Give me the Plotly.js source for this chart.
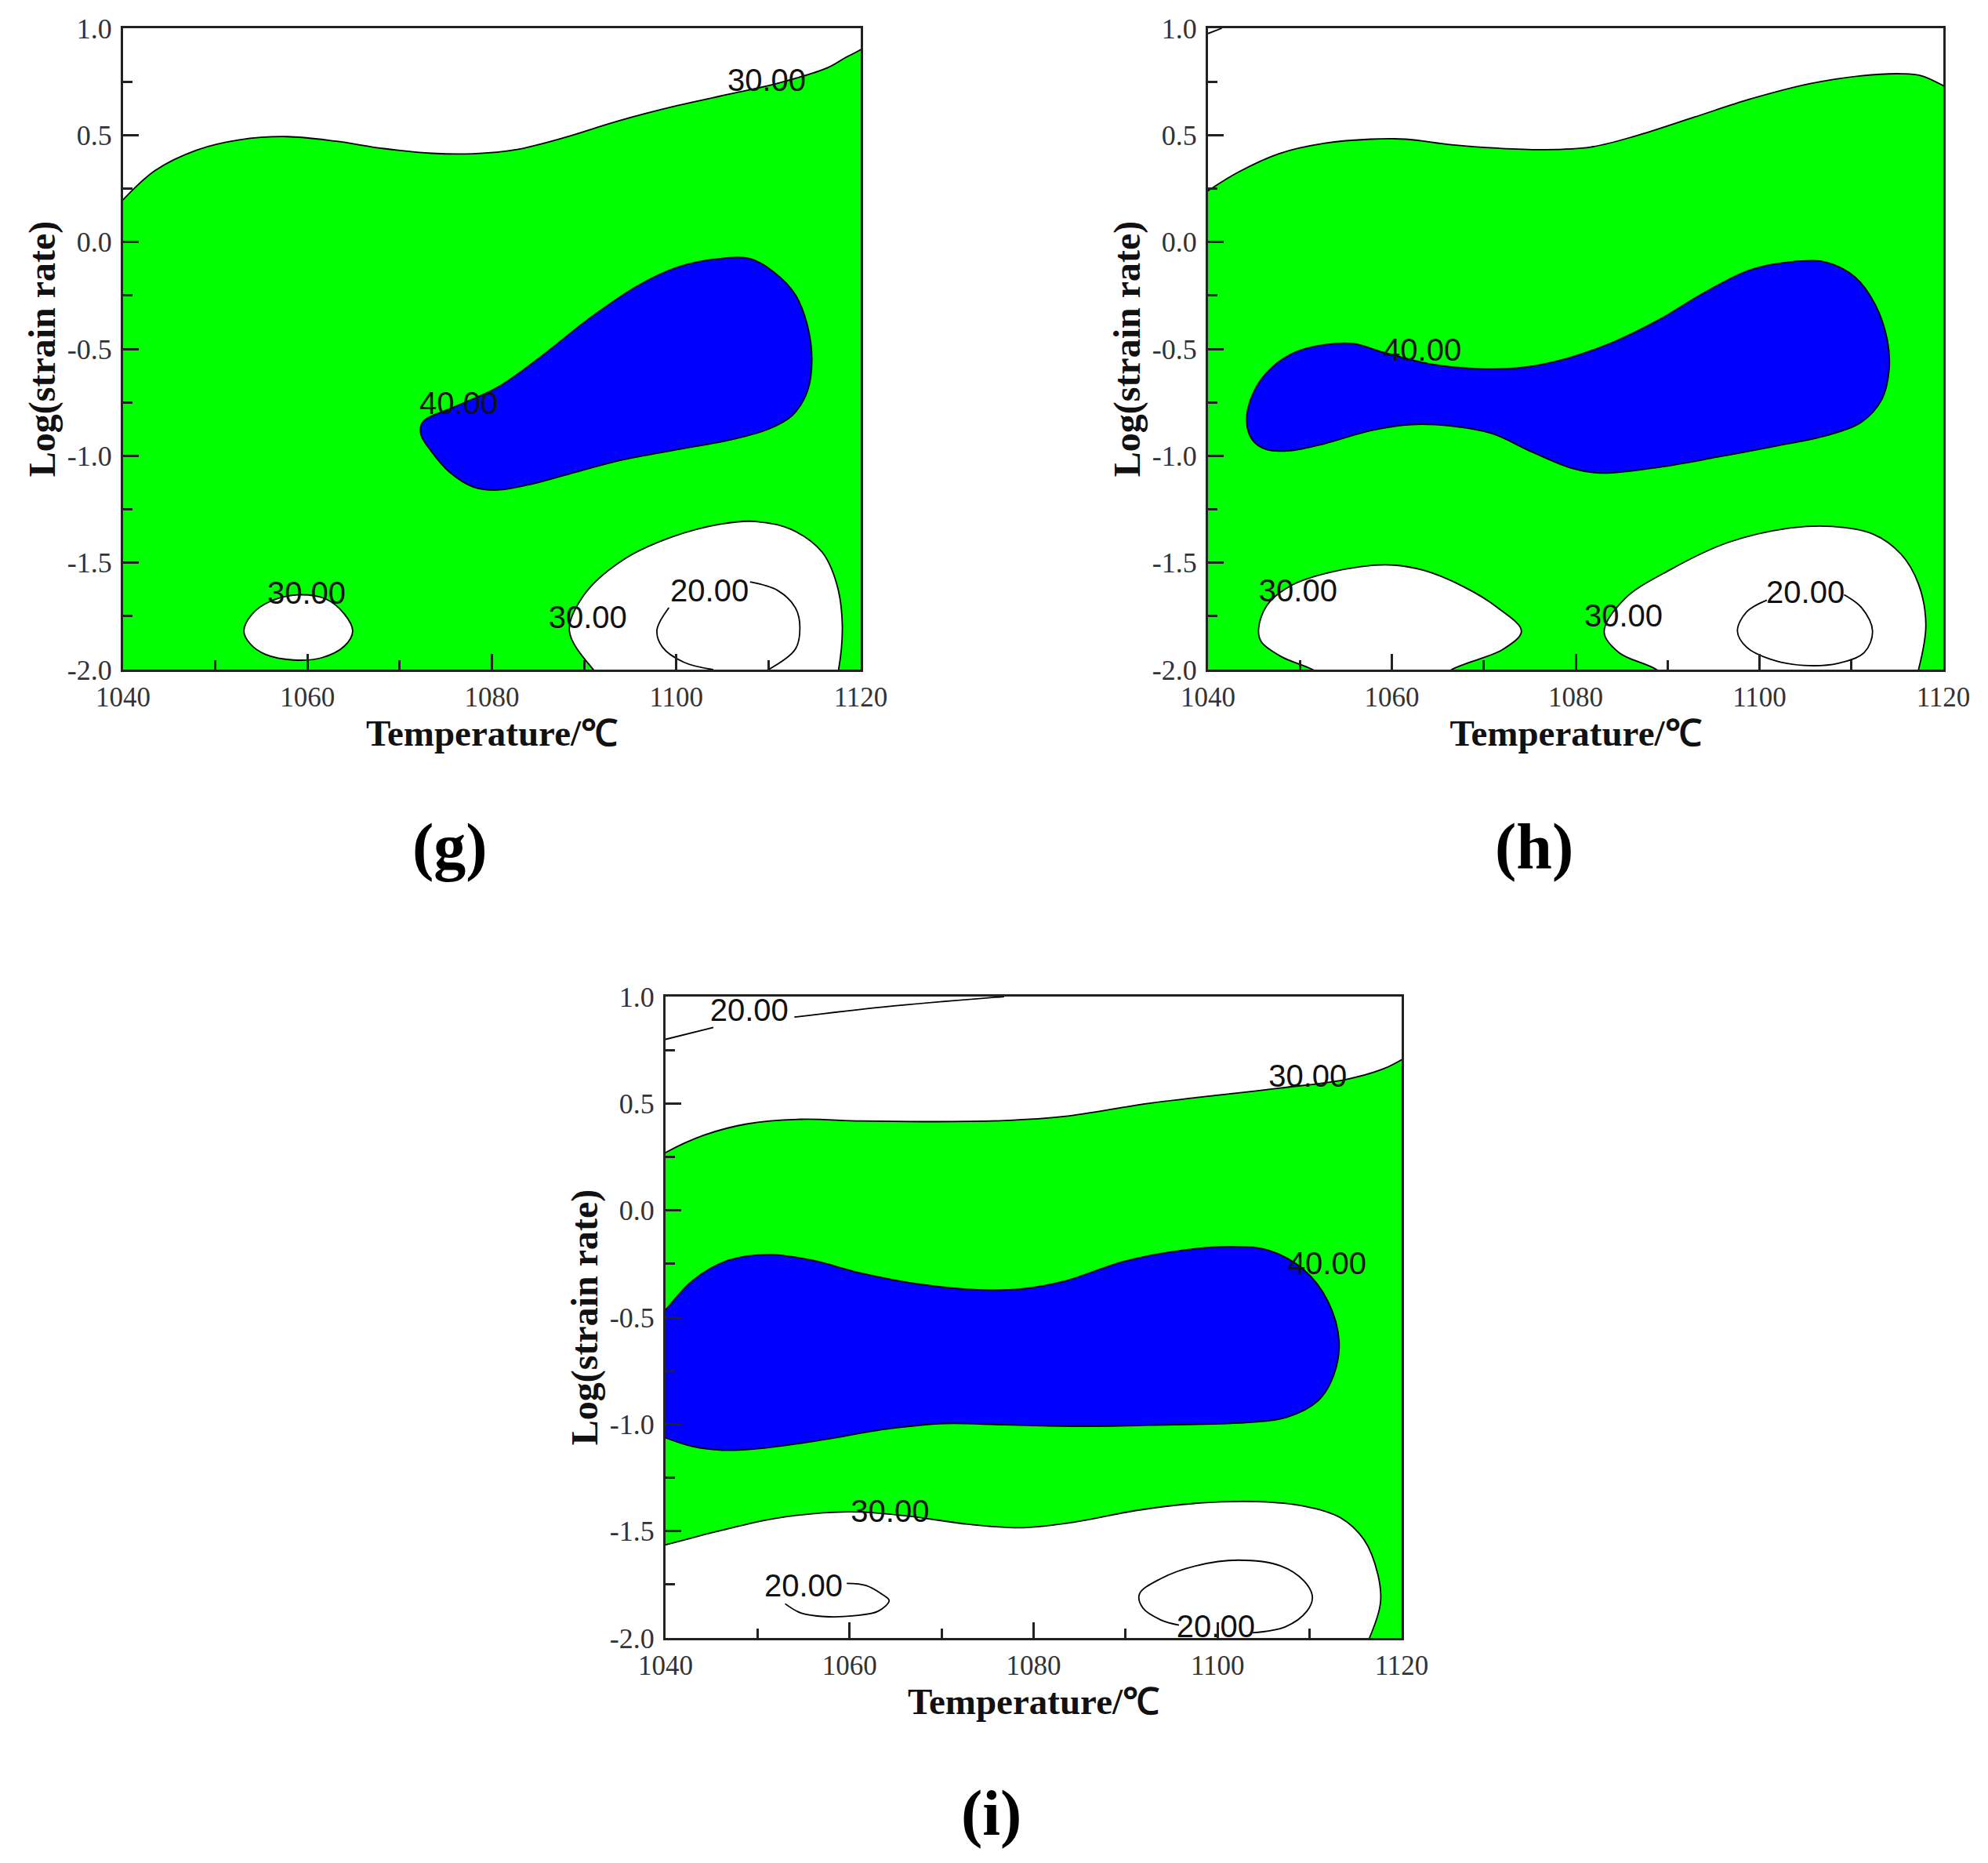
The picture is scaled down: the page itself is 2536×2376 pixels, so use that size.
<!DOCTYPE html>
<html>
<head>
<meta charset="utf-8">
<script src="https://cdn.plot.ly/plotly-3.0.1.min.js"></script>
<style>
  html, body { margin: 0; padding: 0; background: #fff; overflow: hidden; }
</style>
</head>
<body>
<div id="graphique" style="width:2536px;height:2376px;"></div>
<script>
// ticks
var xTicks = [1040, 1060, 1080, 1100, 1120];
var xTickText = ['1040', '1060', '1080', '1100', '1120'];
var xMinor = [1050, 1070, 1090, 1110];
var yTicks = [-2, -1.5, -1, -0.5, 0, 0.5, 1];
var yTickText = ['-2.0', '-1.5', '-1.0', '-0.5', '0.0', '0.5', '1.0'];
var yMinor = [-1.75, -1.25, -0.75, -0.25, 0.25, 0.75];

// panel (g), contours
var gTopX = [1035, 1040, 1043.5, 1048, 1052.6, 1057.8, 1063, 1068.3, 1073.5, 1078, 1082.6, 1087.8, 1093.6, 1100.1, 1106, 1111.2, 1116.4, 1118.4, 1120, 1125, 1125, 1035];
var gTopY = [-0.05, 0.198, 0.335, 0.43, 0.478, 0.493, 0.472, 0.437, 0.415, 0.413, 0.432, 0.488, 0.565, 0.638, 0.694, 0.745, 0.815, 0.864, 0.9, 1.05, 1.7, 1.7];
var gBlueX = [1072.5, 1076, 1080.6, 1085.2, 1090.4, 1095.6, 1100.1, 1104.7, 1108, 1110.6, 1112.9, 1114.2, 1114.7, 1114.2, 1112.6, 1110, 1106, 1100.1, 1094.3, 1089.1, 1084.5, 1080.6, 1078, 1075.4, 1073.5, 1072.3, 1072.5];
var gBlueY = [-0.842, -0.77, -0.68, -0.54, -0.363, -0.21, -0.118, -0.078, -0.078, -0.141, -0.246, -0.387, -0.55, -0.7, -0.81, -0.875, -0.924, -0.971, -1.018, -1.076, -1.13, -1.16, -1.146, -1.076, -0.983, -0.9, -0.842];
var gIsleX = [1053.1, 1054, 1056, 1059, 1062, 1064, 1064.9, 1064, 1061.5, 1058.5, 1055.5, 1053.8, 1053.1];
var gIsleY = [-1.82, -1.74, -1.68, -1.65, -1.67, -1.74, -1.82, -1.89, -1.945, -1.955, -1.93, -1.88, -1.82];
var gWhiteX = [1093, 1091, 1088.4, 1090, 1094.3, 1099.5, 1104.7, 1108.6, 1112.5, 1115.8, 1117.4, 1118, 1117.6, 1117, 1105];
var gWhiteY = [-2.08, -2, -1.818, -1.65, -1.485, -1.38, -1.32, -1.307, -1.345, -1.45, -1.6, -1.79, -2, -2.1, -2.25];
var g20aX = [1108, 1111, 1112.9, 1113.4, 1112.9, 1110];
var g20aY = [-1.59, -1.63, -1.71, -1.8, -1.905, -2];
var g20bX = [1099.2, 1097.9, 1098.5, 1100.8, 1104];
var g20bY = [-1.71, -1.815, -1.895, -1.965, -2];
var gLabelX = [1109.8, 1076.4, 1059.9, 1090.4, 1103.6];
var gLabelY = [0.745, -0.767, -1.656, -1.769, -1.644];
var gLabels = ['30.00', '40.00', '30.00', '30.00', '20.00'];

// panel (h)
var hTopX = [1035, 1040, 1043.3, 1047.7, 1052.7, 1057.7, 1061.5, 1066.5, 1071.5, 1076.5, 1081.6, 1086.6, 1092.9, 1099.1, 1105.4, 1111.1, 1115.5, 1117.6, 1120, 1125, 1125, 1035];
var hTopY = [0.09, 0.24, 0.327, 0.413, 0.462, 0.481, 0.481, 0.455, 0.439, 0.432, 0.444, 0.497, 0.584, 0.67, 0.74, 0.778, 0.787, 0.778, 0.731, 0.6, 1.7, 1.7];
var hBlueX = [1044.2, 1045.1, 1047, 1049.5, 1052.7, 1055.8, 1059, 1064, 1069, 1074, 1079, 1084.1, 1089.1, 1094.1, 1099.1, 1104.2, 1107.3, 1110.4, 1112.6, 1113.9, 1114.1, 1113.3, 1111.1, 1107.3, 1101.7, 1095.4, 1089.1, 1082.8, 1079.7, 1075.3, 1070.9, 1066.5, 1062.1, 1057.7, 1052.7, 1048.9, 1046.4, 1044.8, 1044.2];
var hBlueY = [-0.83, -0.69, -0.585, -0.515, -0.48, -0.475, -0.515, -0.569, -0.592, -0.588, -0.545, -0.468, -0.363, -0.234, -0.129, -0.09, -0.095, -0.164, -0.293, -0.457, -0.597, -0.737, -0.842, -0.905, -0.955, -1.006, -1.053, -1.081, -1.06, -0.983, -0.896, -0.861, -0.854, -0.882, -0.943, -0.976, -0.971, -0.924, -0.83];
var hLeftX = [1053.5, 1051.4, 1048, 1045.8, 1045.5, 1046.4, 1048.9, 1053.3, 1059.3, 1063.4, 1067.7, 1071.5, 1074.1, 1072.1, 1066.5, 1064, 1059];
var hLeftY = [-2.06, -2, -1.94, -1.87, -1.81, -1.7, -1.61, -1.545, -1.51, -1.535, -1.61, -1.71, -1.82, -1.905, -2, -2.08, -2.2];
var hRightX = [1091, 1088.8, 1084.7, 1083.1, 1085.3, 1090.4, 1096.6, 1102.9, 1107.9, 1112.3, 1115.4, 1117.3, 1118.1, 1117.3, 1116.5, 1104];
var hRightY = [-2.08, -2, -1.92, -1.825, -1.67, -1.53, -1.405, -1.34, -1.33, -1.365, -1.46, -1.6, -1.79, -2, -2.1, -2.25];
var h20X = [1109.2, 1111.1, 1112.3, 1111.4, 1108.6, 1104.8, 1101.1, 1098.6, 1097.6, 1098.6, 1100.8];
var h20Y = [-1.65, -1.71, -1.82, -1.92, -1.97, -1.98, -1.95, -1.895, -1.82, -1.73, -1.675];
var hCornerX = [1040, 1041.5];
var hCornerY = [0.975, 1];
var hLabelX = [1063.3, 1049.8, 1085.2, 1105];
var hLabelY = [-0.518, -1.644, -1.763, -1.65];
var hLabels = ['40.00', '30.00', '30.00', '20.00'];

// panel (i)
var iTopX = [1035, 1040, 1044.2, 1048.8, 1054.7, 1061.2, 1069, 1076.8, 1083.3, 1092.4, 1100.3, 1106.8, 1113.9, 1117.9, 1120, 1125, 1125, 1035];
var iTopY = [0.13, 0.27, 0.352, 0.404, 0.426, 0.418, 0.415, 0.42, 0.439, 0.5, 0.54, 0.572, 0.612, 0.66, 0.705, 0.85, 1.7, 1.7];
var iBlueX = [1037, 1040, 1042.9, 1046.8, 1051.4, 1056, 1061.2, 1067.7, 1074.2, 1078.8, 1083.3, 1089.8, 1096.3, 1101.6, 1105.5, 1109.4, 1112, 1113.2, 1112.6, 1110.9, 1107.5, 1103.3, 1092.4, 1084.6, 1076.8, 1070.3, 1063.8, 1057.3, 1050.7, 1046.2, 1042.9, 1040, 1037];
var iBlueY = [-0.6, -0.465, -0.33, -0.234, -0.207, -0.234, -0.293, -0.346, -0.372, -0.367, -0.332, -0.239, -0.186, -0.17, -0.186, -0.279, -0.426, -0.612, -0.773, -0.891, -0.968, -0.992, -1.005, -1.01, -1.003, -0.997, -1.024, -1.072, -1.112, -1.122, -1.104, -1.064, -1.01];
var iLowX = [1035, 1040, 1045.5, 1052, 1059.9, 1066.4, 1072.9, 1078.8, 1084.6, 1091.1, 1097.7, 1104.2, 1109.4, 1113.3, 1115.9, 1117.4, 1117.7, 1116.5, 1115, 1075, 1035];
var iLowY = [-1.61, -1.564, -1.503, -1.44, -1.41, -1.43, -1.468, -1.484, -1.457, -1.404, -1.37, -1.362, -1.383, -1.436, -1.54, -1.7, -1.835, -2, -2.12, -2.4, -2.4];
var i20aX = [1040, 1045.2];
var i20aY = [0.8, 0.856];
var i20bX = [1054, 1063.8, 1076.8];
var i20bY = [0.904, 0.952, 1];
var i20cX = [1059.7, 1061.8, 1063.5, 1064.3, 1063.1, 1060.5, 1057.3, 1054.7, 1053];
var i20cY = [-1.745, -1.755, -1.795, -1.825, -1.875, -1.896, -1.9, -1.883, -1.84];
var i20dX = [1103.8, 1107.4, 1109.7, 1110.3, 1109.4, 1106.8, 1102.2, 1097.7, 1093.8, 1091.5, 1091.9, 1093.8, 1095.8];
var i20dY = [-1.976, -1.947, -1.875, -1.808, -1.734, -1.662, -1.636, -1.662, -1.723, -1.795, -1.861, -1.915, -1.94];
var iLabelX = [1049.1, 1109.8, 1111.9, 1064.4, 1055, 1099.8];
var iLabelY = [0.923, 0.614, -0.262, -1.419, -1.769, -1.959];
var iLabels = ['20.00', '30.00', '40.00', '30.00', '20.00', '20.00'];

var panelNames = ['(g)', '(h)', '(i)'];

var W = 2536, H = 2376;
var VERT = '#00ff00', BLEU = '#0000ff', NOIR = '#000000';

// filled region bounded by a contour line
function zone(x, y, couleur, n) {
    return {
        x: x, y: y, xaxis: 'x' + n, yaxis: 'y' + n,
        mode: 'lines', fill: 'toself', fillcolor: couleur,
        line: { color: NOIR, width: 1.8, shape: 'spline', smoothing: 1 },
        hoverinfo: 'skip'
    };
}

// isoline without fill
function ligne(x, y, n) {
    return {
        x: x, y: y, xaxis: 'x' + n, yaxis: 'y' + n,
        mode: 'lines',
        line: { color: NOIR, width: 1.8, shape: 'spline', smoothing: 1 },
        hoverinfo: 'skip'
    };
}

function etiquettes(x, y, txt, n) {
    return {
        x: x, y: y, xaxis: 'x' + n, yaxis: 'y' + n,
        mode: 'text', text: txt, cliponaxis: false,
        textposition: 'middle center',
        textfont: { family: 'Liberation Sans', size: 40, color: '#111' },
        hoverinfo: 'skip'
    };
}

function axeX(n, gauche, droite) {
    return {
        domain: [gauche / W, droite / W], range: [1040, 1120], anchor: 'y' + n,
        showgrid: false, zeroline: false, showline: true, mirror: true,
        linecolor: '#222', linewidth: 3,
        tickmode: 'array', tickvals: xTicks, ticktext: xTickText,
        ticks: 'inside', ticklen: 20, tickwidth: 2.5, tickcolor: '#222',
        ticklabelstandoff: 2,
        minor: { tickmode: 'array', tickvals: xMinor, ticks: 'inside', ticklen: 12, tickwidth: 2.5, tickcolor: '#222' },
        tickfont: { family: 'Liberation Serif', size: 35, color: '#333' },
        title: { text: 'Temperature/℃', standoff: 0, font: { family: 'Liberation Serif', size: 47, color: '#111', weight: 'bold' } }
    };
}

function axeY(n, haut, bas) {
    return {
        domain: [1 - bas / H, 1 - haut / H], range: [-2, 1], anchor: 'x' + n,
        showgrid: false, zeroline: false, showline: true, mirror: true,
        linecolor: '#222', linewidth: 3,
        tickmode: 'array', tickvals: yTicks, ticktext: yTickText,
        ticks: 'inside', ticklen: 20, tickwidth: 2.5, tickcolor: '#222',
        ticklabelstandoff: 4,
        minor: { tickmode: 'array', tickvals: yMinor, ticks: 'inside', ticklen: 12, tickwidth: 2.5, tickcolor: '#222' },
        tickfont: { family: 'Liberation Serif', size: 36, color: '#333' },
        title: { text: 'Log(strain rate)', standoff: 0, font: { family: 'Liberation Serif', size: 48, color: '#111', weight: 'bold' } }
    };
}

var traces = [
    zone(gTopX, gTopY, '#ffffff', 1),
    zone(gBlueX, gBlueY, BLEU, 1),
    zone(gIsleX, gIsleY, '#ffffff', 1),
    zone(gWhiteX, gWhiteY, '#ffffff', 1),
    ligne(g20aX, g20aY, 1),
    ligne(g20bX, g20bY, 1),
    etiquettes(gLabelX, gLabelY, gLabels, 1),

    zone(hTopX, hTopY, '#ffffff', 2),
    zone(hBlueX, hBlueY, BLEU, 2),
    zone(hLeftX, hLeftY, '#ffffff', 2),
    zone(hRightX, hRightY, '#ffffff', 2),
    ligne(h20X, h20Y, 2),
    ligne(hCornerX, hCornerY, 2),
    etiquettes(hLabelX, hLabelY, hLabels, 2),

    zone(iTopX, iTopY, '#ffffff', 3),
    zone(iBlueX, iBlueY, BLEU, 3),
    zone(iLowX, iLowY, '#ffffff', 3),
    ligne(i20aX, i20aY, 3),
    ligne(i20bX, i20bY, 3),
    ligne(i20cX, i20cY, 3),
    ligne(i20dX, i20dY, 3),
    etiquettes(iLabelX, iLabelY, iLabels, 3)
];

function lettre(txt, px, py) {
    return {
        text: txt, xref: 'paper', yref: 'paper', x: px / W, y: 1 - py / H,
        showarrow: false, xanchor: 'center', yanchor: 'middle',
        font: { family: 'Liberation Serif', size: 82, color: '#000', weight: 'bold' }
    };
}

var layout = {
    width: W, height: H,
    margin: { l: 0, r: 0, t: 0, b: 0 },
    paper_bgcolor: '#ffffff',
    plot_bgcolor: VERT,
    showlegend: false,
    xaxis: axeX('', 157, 1098),
    yaxis: axeY('', 36, 854),
    xaxis2: axeX(2, 1541, 2479),
    yaxis2: axeY(2, 36, 854),
    xaxis3: axeX(3, 849, 1788),
    yaxis3: axeY(3, 1271, 2089),
    annotations: [
        lettre(panelNames[0], 574, 1079),
        lettre(panelNames[1], 1957, 1079),
        lettre(panelNames[2], 1264, 2312)
    ]
};

// premier graphique : axes sans numero
traces.forEach(function (t) {
    if (t.xaxis === 'x1') { t.xaxis = 'x'; t.yaxis = 'y'; }
});
layout.xaxis.anchor = 'y';
layout.yaxis.anchor = 'x';

Plotly.newPlot('graphique', traces, layout, { displayModeBar: false });
</script>
</body>
</html>
